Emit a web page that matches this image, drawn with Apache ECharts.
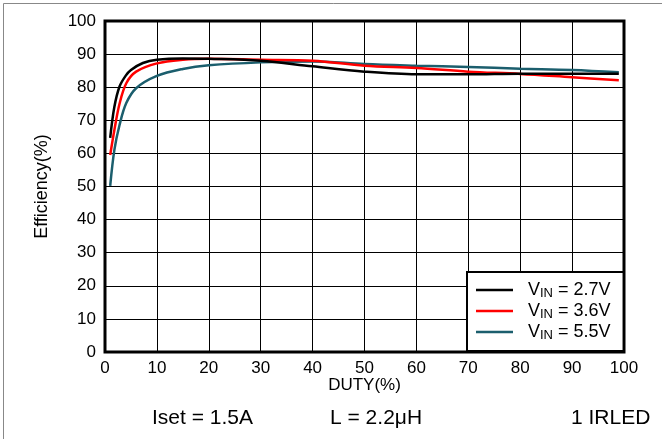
<!DOCTYPE html>
<html>
<head>
<meta charset="utf-8">
<script src="https://cdn.jsdelivr.net/npm/echarts@6/dist/echarts.min.js"></script>
<style>
html,body{margin:0;padding:0;background:#fff;}
#c{width:662px;height:439px;}
</style>
</head>
<body>
<div id="c"></div>
<script>
// Data
var xTicks = [0, 10, 20, 30, 40, 50, 60, 70, 80, 90, 100];
var yTicks = [0, 10, 20, 30, 40, 50, 60, 70, 80, 90, 100];

var seriesNames = ['VIN = 2.7V', 'VIN = 3.6V', 'VIN = 5.5V'];

var dutyBlack = [1, 1.8, 2.8, 4, 5, 7.3, 10, 15, 20, 30, 40, 50, 60, 70, 80, 90, 99];
var effBlack  = [64.7, 74, 80.2, 83.5, 85.2, 87.3, 88.3, 88.7, 88.6, 88.0, 86.3, 84.7, 83.9, 83.9, 84.1, 84.1, 84.1];

var dutyRed = [1, 1.8, 2.8, 4.1, 6, 10, 15, 20, 30, 40, 50, 60, 70, 80, 90, 99];
var effRed  = [59.5, 67, 75, 81.2, 84.7, 87.2, 88.3, 88.6, 88.3, 88.0, 86.5, 85.8, 84.7, 84.0, 83.0, 82.1];

var dutyTeal = [1, 1.8, 2.8, 4.1, 6, 10, 15, 20, 30, 40, 50, 60, 70, 80, 90, 99];
var effTeal  = [50.2, 61, 68.6, 75.2, 79.7, 83.4, 85.5, 86.6, 87.5, 87.8, 87.0, 86.5, 86.1, 85.6, 85.2, 84.5];

var annotations = ['Iset = 1.5A', 'L = 2.2\u03bcH', '1 IRLED'];

function pairs(xs, ys) { return xs.map(function (x, i) { return [x, ys[i]]; }); }

var colors = ['#000000', '#ff0000', '#1b5e6d'];
var font = 'Liberation Sans, Arial, sans-serif';

var chart = echarts.init(document.getElementById('c'));
var datasets = [pairs(dutyBlack, effBlack), pairs(dutyRed, effRed), pairs(dutyTeal, effTeal)];

chart.setOption({
  animation: false,
  backgroundColor: '#fff',
  grid: { left: 105, right: 38, top: 21, bottom: 87, show: true, borderColor: '#000', borderWidth: 3, z: 5 },
  xAxis: {
    type: 'value', min: xTicks[0], max: xTicks[xTicks.length - 1], interval: 10,
    name: 'DUTY(%)', nameLocation: 'middle', nameGap: 25, nameMoveOverlap: false,
    nameTextStyle: { fontFamily: font, fontSize: 17, color: '#000' },
    axisLine: { show: false }, axisTick: { show: false },
    axisLabel: { fontFamily: font, fontSize: 17, color: '#000', margin: 8 },
    splitLine: { show: true, lineStyle: { color: '#000', width: 1 } }
  },
  yAxis: {
    type: 'value', min: yTicks[0], max: yTicks[yTicks.length - 1], interval: 10,
    name: 'Efficiency(%)', nameLocation: 'middle', nameGap: 54, nameMoveOverlap: false,
    nameTextStyle: { fontFamily: font, fontSize: 18, color: '#000' },
    axisLine: { show: false }, axisTick: { show: false },
    axisLabel: { fontFamily: font, fontSize: 17, color: '#000', margin: 9 },
    splitLine: { show: true, lineStyle: { color: '#000', width: 1 } }
  },
  legend: {
    orient: 'vertical', left: 467, top: 272,
    data: seriesNames,
    icon: 'rect', itemWidth: 37, itemHeight: 2.5, itemGap: 2, itemTextGap: 5,
    padding: [9, 13, 9, 9],
    borderColor: '#000', borderWidth: 2, backgroundColor: '#fff',
    z: 10,
    formatter: function (name) {
      return '{gap|}{v|V}{s|IN}{v|' + name.slice(3) + '}';
    },
    textStyle: {
      fontFamily: font, color: '#000',
      rich: {
        gap: { width: 10, height: 20 },
        v: { fontFamily: font, fontSize: 18, color: '#000', lineHeight: 20 },
        s: { fontFamily: font, fontSize: 13, color: '#000', lineHeight: 20, verticalAlign: 'bottom', padding: [6, 0, 0, 0] }
      }
    }
  },
  graphic: [
    { type: 'rect', shape: { x: 3.5, y: 3.5, width: 800, height: 600 }, style: { fill: 'none', stroke: '#888', lineWidth: 1 }, silent: true, z: -1 },
    { type: 'text', left: 152, top: 408, style: { text: annotations[0], font: '21px ' + font, fill: '#000' } },
    { type: 'text', left: 330, top: 408, style: { text: annotations[1], font: '21px ' + font, fill: '#000' } },
    { type: 'text', left: 571, top: 408, style: { text: annotations[2], font: '21px ' + font, fill: '#000' } }
  ],
  series: datasets.map(function (d, i) {
    return {
      name: seriesNames[i], type: 'line', data: d, smooth: 0.35,
      showSymbol: false, symbol: 'none',
      lineStyle: { color: colors[i], width: 2.5 },
      itemStyle: { color: colors[i] },
      z: 3 - i
    };
  })
});
</script>
</body>
</html>
